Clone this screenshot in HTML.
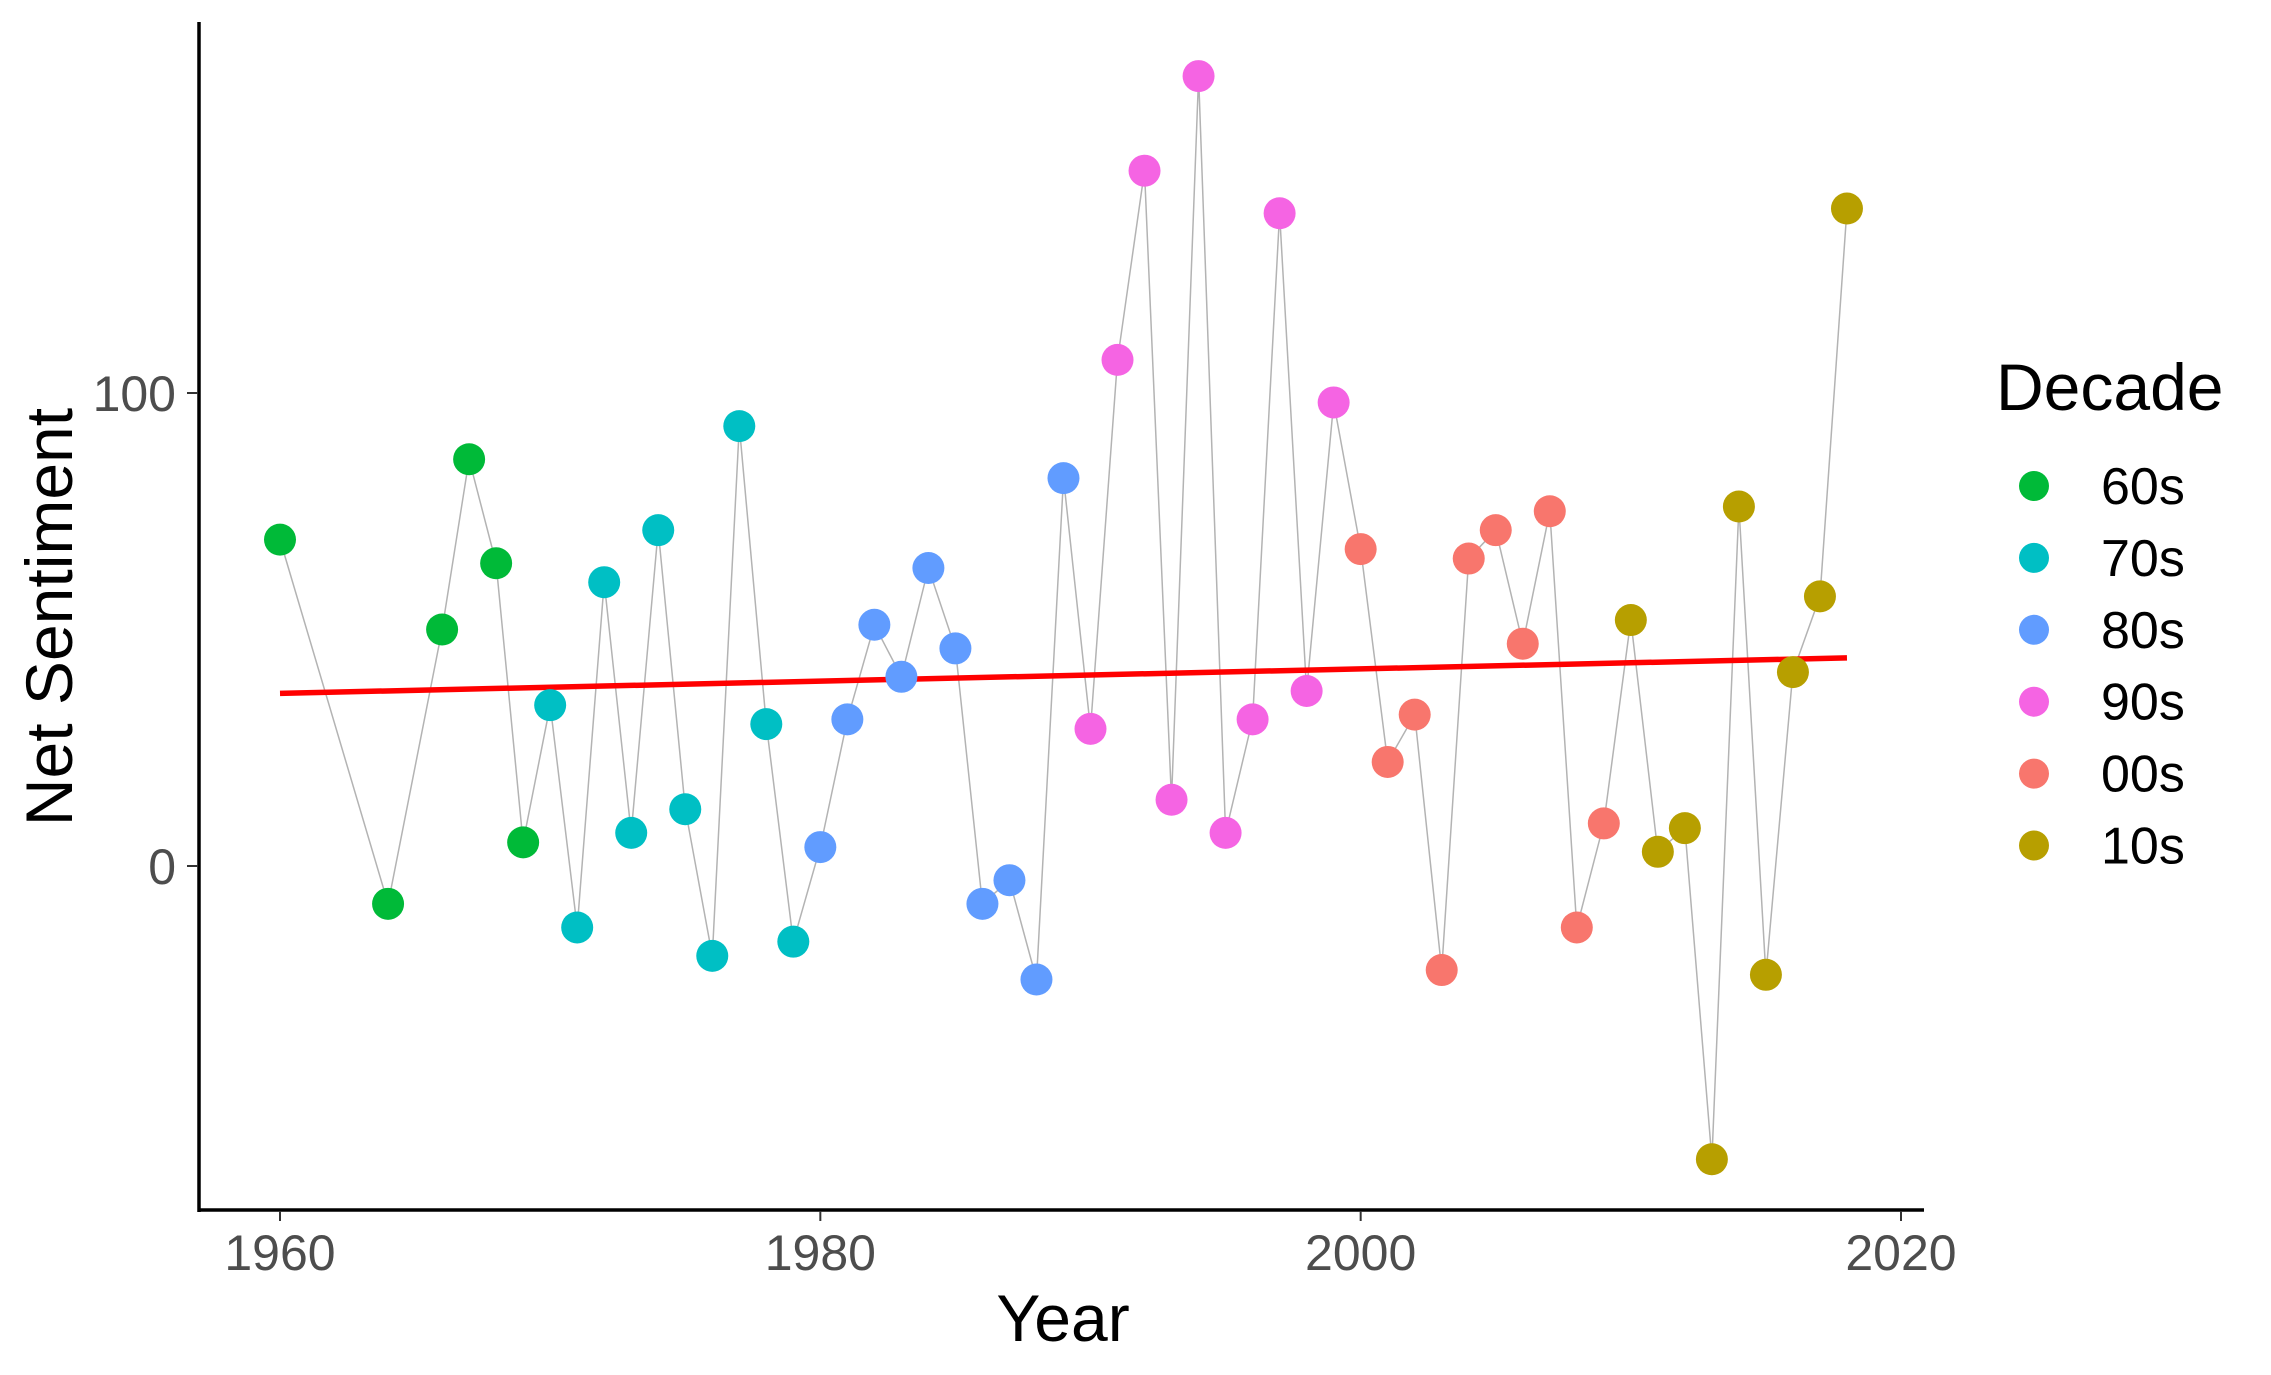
<!DOCTYPE html>
<html><head><meta charset="utf-8"><style>
html,body{margin:0;padding:0;background:#fff;}
svg{display:block;font-family:"Liberation Sans",sans-serif;}
</style></head><body>
<svg id="chart" width="2271" height="1375" viewBox="0 0 2271 1375" xmlns="http://www.w3.org/2000/svg">
<g id="plot"></g>
<g id="axes"></g>
<g id="legend"></g>
</svg>
<script>
const years = [1960,1964,1966,1967,1968,1969,1970,1971,1972,1973,1974,1975,1976,1977,1978,1979,1980,1981,1982,1983,1984,1985,1986,1987,1988,1989,1990,1991,1992,1993,1994,1995,1996,1997,1998,1999,2000,2001,2002,2003,2004,2005,2006,2007,2008,2009,2010,2011,2012,2013,2014,2015,2016,2017,2018];
const sentiment = [69,-8,50,86,64,5,34,-13,60,7,71,12,-19,93,30,-16,4,31,51,40,63,46,-8,-3,-24,82,29,107,147,14,167,7,31,138,37,98,67,22,32,-22,65,71,47,75,-13,9,52,3,8,-62,76,-23,41,57,139];
const decades = ["60s","70s","80s","90s","00s","10s"];
const decadeColors = ["#00BA38","#00BFC4","#619CFF","#F564E3","#F8766D","#B79F00"];
const trendStart = [1960,36.5];
const trendEnd = [2018,44];
const xTicks = [1960,1980,2000,2020];
const yTicks = [0,100];

const NS="http://www.w3.org/2000/svg";
const X = v => 280 + (v-1960)*(1901-280)/60;
const Y = v => 866 - v*(866-393)/100;
function mk(tag, attrs, parent){const e=document.createElementNS(NS,tag);for(const k in attrs)e.setAttribute(k,attrs[k]);parent.appendChild(e);return e;}
function decadeIdx(y){if(y<1970)return 0;if(y<1980)return 1;if(y<1990)return 2;if(y<2000)return 3;if(y<2010)return 4;return 5;}

const plot=document.getElementById('plot');
const axes=document.getElementById('axes');
const legend=document.getElementById('legend');

const pts=years.map((y,i)=>X(y).toFixed(1)+','+Y(sentiment[i]).toFixed(1)).join(' ');
const pl=mk('polyline',{points:pts,fill:'none',stroke:'#b3b3b3','stroke-width':1.5},plot);


const tl=mk('line',{x1:X(trendStart[0]),y1:Y(trendStart[1]),x2:X(trendEnd[0]),y2:Y(trendEnd[1]),stroke:'#ff0000','stroke-width':5.5},plot);


years.forEach((y,i)=>{
  const c=mk('circle',{cx:X(y),cy:Y(sentiment[i]),r:16,fill:decadeColors[decadeIdx(y)]},plot);
  
  
});

const yl=mk('line',{x1:199,y1:22,x2:199,y2:1212,stroke:'#000','stroke-width':3.5},axes);


const xl=mk('line',{x1:198,y1:1210,x2:1924,y2:1210,stroke:'#000','stroke-width':3.5},axes);


xTicks.forEach(t=>{
  const tk=mk('line',{x1:X(t),y1:1211,x2:X(t),y2:1221,stroke:'#333','stroke-width':2},axes);
  
  
  const tx=mk('text',{x:X(t),y:1270,'text-anchor':'middle','font-size':50,fill:'#4d4d4d'},axes);
  tx.textContent=t;
  
  
});
yTicks.forEach(t=>{
  const tk=mk('line',{x1:187,y1:Y(t),x2:198,y2:Y(t),stroke:'#333','stroke-width':2},axes);
  
  
  const tx=mk('text',{x:176,y:Y(t)+18,'text-anchor':'end','font-size':50,fill:'#4d4d4d'},axes);
  tx.textContent=t;
  
  
});
const xt=mk('text',{x:1063,y:1341,'text-anchor':'middle','font-size':66,fill:'#000'},axes);
xt.textContent='Year';


const yt=mk('text',{x:0,y:0,'text-anchor':'middle','font-size':66,fill:'#000',transform:'translate(72,617) rotate(-90)'},axes);
yt.textContent='Net Sentiment';



const lt=mk('text',{x:1996,y:410,'font-size':66,fill:'#000'},legend);
lt.textContent='Decade';


decades.forEach((d,i)=>{
  const cy=486+i*71.9;
  const c=mk('circle',{cx:2034,cy:cy,r:15,fill:decadeColors[i]},legend);
  
  
  const t=mk('text',{x:2101,y:cy+18,'font-size':52,fill:'#000'},legend);
  t.textContent=d;
  
  
});
</script>
</body></html>
